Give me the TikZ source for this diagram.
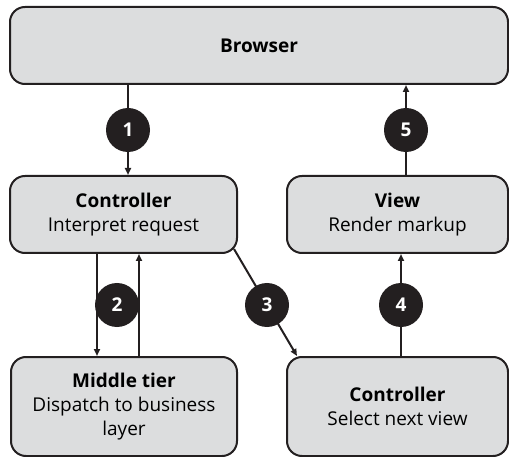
\documentclass[tikz,border=0pt]{standalone}
\usepackage{fontspec}
\setmainfont{Open Sans}
\usetikzlibrary{arrows.meta,calc}
\definecolor{boxfill}{HTML}{DCDDDE}
\definecolor{boxline}{HTML}{231F20}
\begin{document}
\begin{tikzpicture}[x=1pt,y=-1pt,
  box/.style={draw=boxline,line width=2pt,fill=boxfill,rounded corners=15pt,
    rectangle,align=center,inner sep=0pt,font=\fontsize{19}{24}\selectfont},
  num/.style={circle,fill=boxline,text=white,minimum size=44pt,inner sep=0pt,
    font=\fontsize{19}{22}\selectfont\bfseries},
  arr/.style={draw=boxline,line width=2pt,-{Triangle[length=7pt,width=6pt]}},
  ln/.style={draw=boxline,line width=2pt}]
\useasboundingbox (0,0) rectangle (509,457);
\node[box,minimum width=498pt,minimum height=77pt] (browser) at (259,45.5) {\textbf{Browser}};
\node[box,minimum width=227pt,minimum height=77pt] (ctrlA) at (123.5,214.5) {\textbf{Controller}\\Interpret request};
\node[box,minimum width=221pt,minimum height=77pt] (view) at (397.5,214.5) {\textbf{View}\\Render markup};
\node[box,minimum width=226pt,minimum height=99pt] (middle) at (124,406.5) {\textbf{Middle tier}\\Dispatch to business\\layer};
\node[box,minimum width=221pt,minimum height=99pt] (ctrlB) at (397.5,406.5) {\textbf{Controller}\\Select next view};
\coordinate (xa) at (128,0);
\coordinate (xe) at (406,0);
\coordinate (xb) at (97,0);
\coordinate (xc) at (139,0);
\coordinate (xd) at (401,0);
\draw[arr] (browser.south -| xa) -- (ctrlA.north -| xa);
\draw[arr] (view.north -| xe) -- (browser.south -| xe);
\draw[arr] (ctrlA.south -| xb) -- (middle.north -| xb);
\draw[arr] (middle.north -| xc) -- (ctrlA.south -| xc);
\draw[arr] (ctrlB.north -| xd) -- (view.south -| xd);
\draw[arr] ($(ctrlA.south east)+(-4,-5)$) -- ($(ctrlB.north west)+(11,0)$);
\node[num] (n1) at (128,130) {1};
\node[num] (n5) at (406,130) {5};
\node[num] (n2) at (117,305) {2};
\node[num] (n3) at (267,305) {3};
\node[num] (n4) at (401,305) {4};
\end{tikzpicture}
\end{document}
